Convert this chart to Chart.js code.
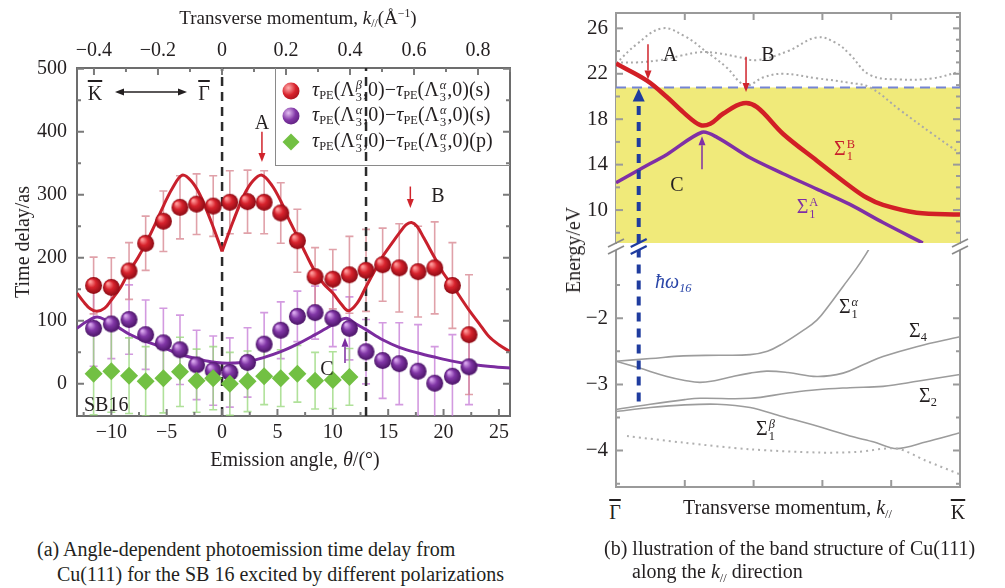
<!DOCTYPE html>
<html>
<head>
<meta charset="utf-8">
<script src="https://cdn.jsdelivr.net/npm/chart.js@4.4.1/dist/chart.umd.min.js"></script>
<style>
  body { margin: 0; background: #fff; }
  #page { position: relative; width: 1005px; height: 588px; overflow: hidden; font-family: "Liberation Serif", "DejaVu Serif", serif; color: #231f20; }
  canvas { position: absolute; }
  .lbl { position: absolute; white-space: nowrap; line-height: 1; font-size: 20px; transform: translate(-50%, -50%); }
  .lft { transform: translate(0, -50%); }
  .rot { transform: translate(-50%, -50%) rotate(-90deg); }
  .sub { font-size: 0.62em; vertical-align: -0.3em; }
  .sup { font-size: 0.62em; vertical-align: 0.55em; }
  .ss { display: inline-block; font-size: 0.62em; line-height: 0.95; vertical-align: -0.4em; text-align: left; margin: 0 1px; }
  .ss > span { display: block; }
  .ov { text-decoration: overline; }
  .ball { position: absolute; width: 17px; height: 17px; border-radius: 50%; transform: translate(-50%, -50%); }
  .dia { position: absolute; width: 12px; height: 12px; background: #72c043; transform: translate(-50%, -50%) rotate(45deg); }
</style>
</head>
<body>
<div id="page">
  <canvas id="chartA" width="540" height="470" style="left:0;top:0"></canvas>
  <canvas id="chartB1" width="465" height="250" style="left:540px;top:0"></canvas>
  <canvas id="chartB2" width="465" height="260" style="left:540px;top:235px"></canvas>
</div>
<script>
// ---------- (a) time delay vs emission angle ----------
const angleTicks = [-10, -5, 0, 5, 10, 15, 20, 25];
const angleMinor = [-12.5, -7.5, -2.5, 2.5, 7.5, 12.5, 17.5, 22.5];
const kTicks = [-0.4, -0.2, 0, 0.2, 0.4, 0.6, 0.8];
const kMinor = [-0.3, -0.1, 0.1, 0.3, 0.5, 0.7, 0.9];
const delayTicks = [0, 100, 200, 300, 400, 500];
const delayMinor = [50, 150, 250, 350, 450];

const angle = [-11.6, -10, -8.4, -6.9, -5.3, -3.8, -2.3, -0.8, 0.7, 2.3, 3.8, 5.3, 6.8, 8.4, 10, 11.5, 13, 14.5, 16, 17.7, 19.2, 20.8, 22.3];
const delayRed = [156, 153, 179, 223, 258, 280, 285, 282, 288, 289, 288, 271, 227, 170, 166, 173, 180, 189, 184, 178, 184, 156, 78];
const errRed = [45, 47, 45, 43, 48, 50, 48, 48, 50, 50, 50, 48, 50, 46, 47, 61, 65, 58, 70, 72, 73, 68, 95];
const delayPurple = [88, 95, 102, 78, 65, 54, 30, 21, 18, 34, 63, 85, 107, 113, 104, 88, 51, 37, 32, 20, 1, 12, 27];
const errPurple = [60, 55, 55, 55, 55, 55, 55, 55, 55, 55, 50, 45, 40, 42, 45, 50, 51, 60, 65, 74, 58, 66, 60];
const angleGreen = [-11.6, -10, -8.4, -6.9, -5.3, -3.8, -2.3, -0.8, 0.7, 2.3, 3.8, 5.3, 6.8, 8.4, 10, 11.5];
const delayGreen = [16, 20, 13, 4, 9, 19, 5, 9, 0, 4, 12, 9, 16, 5, 6, 11];
const errGreen = [65, 65, 60, 55, 55, 55, 50, 50, 50, 48, 45, 45, 45, 45, 45, 45];

const redFitX = [-13.1, -12.5, -11.9, -11.3, -10.6, -10, -9.2, -8.4, -7.6, -6.85, -6, -5.25, -4.5, -3.6, -2.8, -2, -1, 0,
                 1, 2, 2.8, 3.6, 4.5, 5.3, 6, 6.8, 7.6, 8.4, 9.2, 10, 10.7, 11.4, 12.2, 13, 13.8, 14.5, 15.3, 16, 16.6, 17.1,
                 17.6, 18.2, 19.2, 20, 20.8, 21.6, 22.3, 23.2, 24.1, 25, 26];
const redFitY = [144, 130, 119, 115, 120, 133, 152, 178, 200, 224, 255, 284, 310, 331, 322, 300, 258, 210,
                 258, 300, 322, 331, 315, 290, 262, 234, 205, 178, 158, 144, 128, 116, 128, 154, 180, 202, 222, 239, 252, 256,
                 250, 232, 200, 175, 156, 135, 117, 96, 75, 62, 51];
const purpleFitX = [-13.1, -12.3, -11.3, -10.4, -9.4, -8.4, -7, -5.25, -3.8, -2.3, -1, 0, 1, 2.3, 3.8, 5.3, 6.8, 8.4, 9.3, 10.2, 11.2,
                    12, 13, 14.5, 16, 17.7, 19.3, 20.8, 22.5, 24, 26];
const purpleFitY = [88, 98, 106, 100, 90, 79, 68, 57, 47, 40, 35, 33, 33, 35, 42, 51, 63, 78, 87, 96, 104,
                    96, 86, 70, 58, 49, 42, 36, 31, 28, 25];
const dividerAngles = [0, 13];

// ---------- (b) band structure ----------
const kbTicks = [1, 2, 3, 4];
const eUpTicks = [10, 14, 18, 22, 26];
const eUpMinorL = [8, 12, 16, 20, 24];
const eUpMinorR = [8, 9, 11, 12, 13, 15, 16, 17, 19, 20, 21, 23, 24, 25, 27];
const eLowTicks = [-4, -3, -2];
const eLowMinor = [-4.5, -3.5, -2.5, -1.5];

const sigB_k = [0, 0.45, 0.74, 0.98, 1.22, 1.37, 1.56, 1.85, 2.05, 2.43, 2.92, 3.4, 3.64, 3.88, 4.37, 5.0];
const sigB_E = [22.9, 21.4, 19.95, 18.6, 17.5, 17.6, 18.5, 19.4, 19.06, 16.7, 14.35, 12.1, 11.1, 10.45, 9.77, 9.6];
const sigA_k = [0, 0.35, 0.74, 1.25, 1.47, 1.95, 2.43, 2.92, 3.4, 3.88, 4.46];
const sigA_E = [12.4, 13.6, 14.9, 16.85, 16.4, 14.6, 13.2, 11.85, 10.5, 8.9, 7.1];
const gray1_k = [0, 0.3, 0.67, 1.0, 1.3, 1.6, 1.88, 2.15, 2.43, 2.92, 3.4, 3.69, 4.13, 4.6, 5.0];
const gray1_E = [22.9, 24.6, 26.0, 25.3, 24.0, 22.6, 21.0, 21.7, 22.0, 21.6, 21.2, 20.8, 18.8, 16.7, 15.0];
const gray2_k = [0, 0.3, 0.64, 0.95, 1.22, 1.5, 1.76, 2.05, 2.5, 2.92, 3.2, 3.4, 3.69, 4.13, 4.6, 5.0];
const gray2_E = [23.0, 23.0, 23.2, 23.6, 23.9, 23.8, 23.5, 23.2, 24.0, 25.2, 24.7, 23.7, 21.9, 21.5, 21.6, 22.2];
const cutoffE = 20.8;
const pumpK = 0.33, pumpFrom = -3.26, pumpTo = 20.7;

const s1a_k = [0, 0.5, 0.98, 1.5, 1.95, 2.2, 2.43, 2.7, 2.92, 3.1, 3.3, 3.5, 3.64, 3.72];
const s1a_E = [-2.65, -2.61, -2.57, -2.56, -2.55, -2.5, -2.38, -2.2, -2.03, -1.8, -1.52, -1.24, -1.02, -0.88];
const s4_k = [0, 0.33, 0.74, 1.0, 1.22, 1.45, 1.7, 1.95, 2.19, 2.5, 2.92, 3.3, 3.6, 3.88, 4.37, 5.0];
const s4_E = [-2.65, -2.75, -2.88, -2.94, -2.97, -2.94, -2.88, -2.83, -2.8, -2.82, -2.88, -2.83, -2.7, -2.58, -2.43, -2.28];
const s2_k = [0, 0.5, 1.0, 1.22, 1.95, 2.5, 2.92, 3.4, 3.88, 4.4, 5.0];
const s2_E = [-3.38, -3.3, -3.23, -3.21, -3.21, -3.13, -3.08, -3.05, -3.03, -2.95, -2.85];
const s1b_k = [0, 0.5, 1.0, 1.47, 1.95, 2.4, 2.92, 3.4, 3.75, 4.08, 4.5, 5.0];
const s1b_E = [-3.41, -3.35, -3.31, -3.3, -3.35, -3.48, -3.63, -3.78, -3.87, -3.97, -3.87, -3.73];
const dot_k = [0.16, 0.98, 1.95, 2.97, 3.5, 4.08, 4.5, 5.0];
const dot_E = [-3.78, -3.88, -3.98, -4.03, -4.02, -3.97, -4.15, -4.36];

// ---------- helpers ----------
Chart.defaults.font.family = '"Liberation Serif", "DejaVu Serif", serif';
Chart.defaults.color = '#231f20';

const fmt = v => (v < 0 ? '\u2212' + Math.abs(v) : String(v));
const pts = (xs, ys) => xs.map((x, i) => ({ x: x, y: ys[i] }));
// fixed axis sizes; no extra room for the end labels
const fixW = w => s => { s.width = w; s.paddingTop = 0; s.paddingBottom = 0; };
const fixH = h => s => { s.height = h; s.paddingLeft = 0; s.paddingRight = 0; };
const setTicks = vals => s => { s.ticks = vals.map(v => ({ value: v })); };

function sphere(light, mid, dark, r) {
    const c = document.createElement('canvas');
    c.width = c.height = 2 * r + 2;
    const g = c.getContext('2d');
    const grad = g.createRadialGradient(r * 0.7, r * 0.65, r * 0.1, r + 1, r + 1, r);
    grad.addColorStop(0, light);
    grad.addColorStop(0.45, mid);
    grad.addColorStop(1, dark);
    g.fillStyle = grad;
    g.beginPath();
    g.arc(r + 1, r + 1, r, 0, Math.PI * 2);
    g.fill();
    return c;
}

function axis(opts) {
    const base = {
        type: 'linear',
        grid: { display: false, drawTicks: false },
        border: { display: true, color: '#6d6d6d', width: 2 },
        ticks: { display: false }
    };
    return Object.assign(base, opts);
}

// inward tick marks
function inTicks(color, list) {
    return {
        id: 'inTicks',
        afterDatasetsDraw(chart) {
            const { ctx, chartArea: a } = chart;
            ctx.save();
            ctx.strokeStyle = color;
            ctx.lineWidth = 2;
            list.forEach(d => {
                const sc = chart.scales[d.scale];
                [[d.major, 7], [d.minor || [], 4]].forEach(([vals, len]) => {
                    vals.forEach(v => {
                        const p = sc.getPixelForValue(v);
                        ctx.beginPath();
                        d.sides.forEach(side => {
                            if (side === 'top') { ctx.moveTo(p, a.top); ctx.lineTo(p, a.top + len); }
                            if (side === 'bottom') { ctx.moveTo(p, a.bottom); ctx.lineTo(p, a.bottom - len); }
                            if (side === 'left') { ctx.moveTo(a.left, p); ctx.lineTo(a.left + len, p); }
                            if (side === 'right') { ctx.moveTo(a.right, p); ctx.lineTo(a.right - len, p); }
                        });
                        ctx.stroke();
                    });
                });
            });
            ctx.restore();
        }
    };
}

// vertical arrows in data units
function arrows(list) {
    return {
        id: 'arrows',
        afterDatasetsDraw(chart) {
            const { ctx, scales } = chart;
            list.forEach(ar => {
                const px = scales.x.getPixelForValue(ar.x);
                const p0 = scales.y.getPixelForValue(ar.from);
                const p1 = scales.y.getPixelForValue(ar.to);
                const dir = Math.sign(p1 - p0);
                ctx.save();
                ctx.strokeStyle = ar.color;
                ctx.fillStyle = ar.color;
                ctx.lineWidth = ar.lw;
                if (!ar.headOnly) {
                    ctx.beginPath();
                    ctx.moveTo(px, p0);
                    ctx.lineTo(px, p1 - dir * ar.head);
                    ctx.stroke();
                }
                ctx.beginPath();
                ctx.moveTo(px, p1);
                ctx.lineTo(px - ar.hw, p1 - dir * ar.head);
                ctx.lineTo(px + ar.hw, p1 - dir * ar.head);
                ctx.closePath();
                ctx.fill();
                ctx.restore();
            });
        }
    };
}

const errorBars = {
    id: 'errorBars',
    beforeDatasetsDraw(chart) {
        const { ctx, chartArea: a, scales: { x, y } } = chart;
        ctx.save();
        ctx.beginPath();
        ctx.rect(a.left, a.top, a.width, a.height);
        ctx.clip();
        chart.data.datasets.forEach(ds => {
            if (!ds.errors) return;
            ctx.strokeStyle = ds.errorColor;
            ctx.lineWidth = 1.6;
            ds.data.forEach((p, i) => {
                const px = x.getPixelForValue(p.x);
                const y1 = y.getPixelForValue(p.y + ds.errors[i]);
                const y2 = y.getPixelForValue(p.y - ds.errors[i]);
                ctx.beginPath();
                ctx.moveTo(px, y1); ctx.lineTo(px, y2);
                ctx.moveTo(px - 4, y1); ctx.lineTo(px + 4, y1);
                ctx.moveTo(px - 4, y2); ctx.lineTo(px + 4, y2);
                ctx.stroke();
            });
        });
        ctx.restore();
    }
};

// K <-> Gamma double arrow (annotation, pixels)
const kgArrow = {
    id: 'kgArrow',
    afterDraw(chart) {
        const ctx = chart.ctx;
        const y = 92, x0 = 115, x1 = 187;
        ctx.save();
        ctx.strokeStyle = ctx.fillStyle = '#231f20';
        ctx.lineWidth = 1.3;
        ctx.beginPath(); ctx.moveTo(x0 + 6, y); ctx.lineTo(x1 - 6, y); ctx.stroke();
        [[x0, 1], [x1, -1]].forEach(([x, d]) => {
            ctx.beginPath();
            ctx.moveTo(x, y);
            ctx.lineTo(x + d * 9, y - 3.5);
            ctx.lineTo(x + d * 9, y + 3.5);
            ctx.closePath();
            ctx.fill();
        });
        ctx.restore();
    }
};

const tickFont = { size: 20 };
const redBall = sphere('#ff9a9a', '#d8232d', '#8c0a14', 8.5);
const purpleBall = sphere('#d9a6ee', '#8136a6', '#4a1466', 8.5);

// ---------- chart (a) ----------
const iZero = redFitX.indexOf(0);
new Chart(document.getElementById('chartA'), {
    type: 'scatter',
    data: {
        datasets: [
            ...dividerAngles.map(a => ({
                data: [{ x: a, y: -51 }, { x: a, y: 501 }],
                showLine: true, pointRadius: 0, borderColor: '#2b2b2b', borderWidth: 2.5, borderDash: [9, 6], order: 9
            })),
            { data: pts(redFitX.slice(0, iZero + 1), redFitY.slice(0, iZero + 1)), showLine: true, pointRadius: 0,
              borderColor: '#c8202c', borderWidth: 3, tension: 0.35, order: 5 },
            { data: pts(redFitX.slice(iZero), redFitY.slice(iZero)), showLine: true, pointRadius: 0,
              borderColor: '#c8202c', borderWidth: 3, tension: 0.35, order: 5 },
            { data: pts(purpleFitX, purpleFitY), showLine: true, pointRadius: 0,
              borderColor: '#7b2c9f', borderWidth: 3, tension: 0.35, order: 5 },
            { data: pts(angle, delayPurple), errors: errPurple, errorColor: 'rgba(196,120,214,0.75)',
              pointStyle: purpleBall, pointRadius: 8.5, order: 2 },
            { data: pts(angleGreen, delayGreen), errors: errGreen, errorColor: 'rgba(150,215,120,0.75)',
              pointStyle: 'rectRot', pointRadius: 9, backgroundColor: '#72c043', borderWidth: 0, order: 1 },
            { data: pts(angle, delayRed), errors: errRed, errorColor: 'rgba(214,130,140,0.75)',
              pointStyle: redBall, pointRadius: 8.5, order: 0 }
        ]
    },
    options: {
        responsive: false, animation: false, events: [],
        plugins: { legend: { display: false }, tooltip: { enabled: false } },
        scales: {
            x: axis({ position: 'bottom', min: -13.1, max: 26, afterFit: fixH(54), afterBuildTicks: setTicks(angleTicks),
                      ticks: { display: true, font: tickFont, padding: 5, autoSkip: false, maxRotation: 0, callback: fmt } }),
            x2: axis({ position: 'top', min: -0.453, max: 0.9, afterFit: fixH(68), afterBuildTicks: setTicks(kTicks),
                       ticks: { display: true, font: tickFont, padding: 5, autoSkip: false, maxRotation: 0, callback: fmt } }),
            y: axis({ position: 'left', min: -51, max: 501, afterFit: fixW(77), afterBuildTicks: setTicks(delayTicks),
                      ticks: { display: true, font: tickFont, padding: 10, autoSkip: false, callback: fmt } }),
            y2: axis({ position: 'right', min: -51, max: 501, afterFit: fixW(30) })
        }
    },
    plugins: [
        errorBars,
        inTicks('#7a7a7a', [
            { scale: 'x', sides: ['bottom'], major: angleTicks, minor: angleMinor },
            { scale: 'x2', sides: ['top'], major: kTicks, minor: kMinor },
            { scale: 'y', sides: ['left', 'right'], major: delayTicks, minor: delayMinor }
        ]),
        arrows([
            { x: 3.6, from: 400, to: 352, color: '#d0242c', lw: 1.5, head: 9, hw: 3.5 },
            { x: 17.0, from: 313, to: 279, color: '#d0242c', lw: 1.5, head: 9, hw: 3.5 },
            { x: 11.1, from: 33, to: 73, color: '#7b2c9f', lw: 1.5, head: 9, hw: 3.5 }
        ]),
        kgArrow
    ]
});

// ---------- chart (b) upper ----------
const yAxisB = (min, max, ticks, w) => axis({
    position: 'left', min: min, max: max, afterFit: fixW(w), afterBuildTicks: setTicks(ticks),
    border: { display: true, color: '#9a9a9a', width: 2 },
    ticks: { display: true, font: { size: 21 }, padding: 8, autoSkip: false, callback: fmt }
});
const grayBorder = { display: true, color: '#9a9a9a', width: 2 };

new Chart(document.getElementById('chartB1'), {
    type: 'scatter',
    data: {
        datasets: [
            { data: [{ x: 0, y: cutoffE }, { x: 5, y: cutoffE }], showLine: true, pointRadius: 0, fill: 'start',
              backgroundColor: '#f0ea7a', borderColor: '#7484d4', borderWidth: 2, borderDash: [10, 6], order: 10 },
            { data: pts(gray1_k, gray1_E), showLine: true, pointRadius: 0, borderColor: '#a9a9a9', borderWidth: 2,
              borderDash: [2, 3], tension: 0.4, order: 8 },
            { data: pts(gray2_k, gray2_E), showLine: true, pointRadius: 0, borderColor: '#a9a9a9', borderWidth: 2,
              borderDash: [2, 3], tension: 0.4, order: 8 },
            { data: pts(sigA_k, sigA_E), showLine: true, pointRadius: 0, borderColor: '#7f2fa6', borderWidth: 3.5,
              tension: 0.3, order: 3 },
            { data: pts(sigB_k, sigB_E), showLine: true, pointRadius: 0, borderColor: '#d21f26', borderWidth: 4.5,
              tension: 0.35, order: 2 },
            { data: [{ x: pumpK, y: 7.1 }, { x: pumpK, y: pumpTo - 1 }], showLine: true, pointRadius: 0,
              borderColor: '#1f3c9f', borderWidth: 4, borderDash: [9, 7], order: 1 }
        ]
    },
    options: {
        responsive: false, animation: false, events: [],
        layout: { padding: { bottom: 7 } },
        plugins: { legend: { display: false }, tooltip: { enabled: false } },
        scales: {
            x: axis({ position: 'top', min: 0, max: 5, afterFit: fixH(13), border: grayBorder }),
            y: yAxisB(7.1, 27.35, eUpTicks, 76),
            y2: axis({ position: 'right', min: 7.1, max: 27.35, afterFit: fixW(45), border: grayBorder })
        }
    },
    plugins: [
        inTicks('#9a9a9a', [
            { scale: 'x', sides: ['top'], major: kbTicks },
            { scale: 'y', sides: ['left'], major: eUpTicks, minor: eUpMinorL },
            { scale: 'y', sides: ['right'], major: eUpTicks, minor: eUpMinorR }
        ]),
        arrows([
            { x: 0.465, from: 24.6, to: 21.5, color: '#d0242c', lw: 1.5, head: 9, hw: 3.5 },
            { x: 1.89, from: 23.5, to: 20.4, color: '#d0242c', lw: 1.5, head: 9, hw: 3.5 },
            { x: 1.25, from: 13.6, to: 16.5, color: '#7f2fa6', lw: 1.5, head: 9, hw: 3.5 },
            { x: pumpK, from: pumpTo - 1, to: pumpTo, color: '#1f3c9f', lw: 4, head: 13, hw: 6, headOnly: true }
        ])
    ]
});

// ---------- chart (b) lower ----------
const breakMarks = {
    id: 'breakMarks',
    afterDraw(chart) {
        const ctx = chart.ctx;
        const xs = [[chart.chartArea.left, '#8a8a8a', 1.8], [chart.chartArea.right, '#8a8a8a', 1.8],
                    [chart.scales.x.getPixelForValue(pumpK), '#1f3c9f', 2.2]];
        ctx.save();
        xs.forEach(([x, col, lw]) => {
            ctx.fillStyle = '#fff';
            ctx.fillRect(x - 4, 9, 8, 6);
            ctx.strokeStyle = col;
            ctx.lineWidth = lw;
            [8, 15].forEach(y => {
                ctx.beginPath();
                ctx.moveTo(x - 8, y + 4);
                ctx.lineTo(x + 8, y - 4);
                ctx.stroke();
            });
        });
        ctx.restore();
    }
};

new Chart(document.getElementById('chartB2'), {
    type: 'scatter',
    data: {
        datasets: [
            { data: pts(dot_k, dot_E), showLine: true, pointRadius: 0, borderColor: '#b0b0b0', borderWidth: 2,
              borderDash: [2, 4], tension: 0.3 },
            { data: pts(s1a_k, s1a_E), showLine: true, pointRadius: 0, borderColor: '#9c9c9c', borderWidth: 1.6, tension: 0.4 },
            { data: pts(s4_k, s4_E), showLine: true, pointRadius: 0, borderColor: '#9c9c9c', borderWidth: 1.6, tension: 0.4 },
            { data: pts(s2_k, s2_E), showLine: true, pointRadius: 0, borderColor: '#9c9c9c', borderWidth: 1.6, tension: 0.4 },
            { data: pts(s1b_k, s1b_E), showLine: true, pointRadius: 0, borderColor: '#9c9c9c', borderWidth: 1.6, tension: 0.3 },
            { data: [{ x: pumpK, y: pumpFrom }, { x: pumpK, y: -0.97 }], showLine: true, pointRadius: 0,
              borderColor: '#1f3c9f', borderWidth: 4, borderDash: [9, 7], order: -1 }
        ]
    },
    options: {
        responsive: false, animation: false, events: [],
        layout: { padding: { top: 15 } },
        plugins: { legend: { display: false }, tooltip: { enabled: false } },
        scales: {
            x: axis({ position: 'bottom', min: 0, max: 5, afterFit: fixH(8), border: grayBorder }),
            y: yAxisB(-4.55, -0.97, eLowTicks, 76),
            y2: axis({ position: 'right', min: -4.55, max: -0.97, afterFit: fixW(45), border: grayBorder })
        }
    },
    plugins: [
        inTicks('#9a9a9a', [
            { scale: 'x', sides: ['bottom'], major: kbTicks },
            { scale: 'y', sides: ['left', 'right'], major: eLowTicks, minor: eLowMinor }
        ]),
        breakMarks
    ]
});

// ---------- text overlays ----------
const page = document.getElementById('page');
function label(html, x, y, cls, style) {
    const d = document.createElement('div');
    d.className = 'lbl ' + (cls || '');
    d.innerHTML = html;
    d.style.left = x + 'px';
    d.style.top = y + 'px';
    if (style) d.style.cssText += style;
    page.appendChild(d);
    return d;
}
const ss = (sup, sub) => `<span class="ss"><span>${sup}</span><span>${sub}</span></span>`;
const tau = (a, b, pol) =>
    `<i>τ</i><span class="sub">PE</span>(Λ${ss('<i>' + a + '</i>', '3')},0)\u2212<i>τ</i><span class="sub">PE</span>(Λ${ss('<i>' + b + '</i>', '3')},0)(${pol})`;

// panel (a)
label('Transverse momentum, <i>k</i><span class="sub">//</span>(Å<span class="sup">\u22121</span>)', 298, 19, '', 'font-size:19px;');
label('Time delay/as', 22, 242, 'rot');
label('Emission angle, <i>θ</i>/(°)', 295, 459);
label('<span class="ov">K</span>', 95, 93);
label('<span class="ov">Γ</span>', 204, 93);
label('A', 262, 122);
label('B', 438, 195);
label('C', 327, 368);
label('SB16', 84, 404, 'lft');

const leg = document.createElement('div');
leg.style.cssText = 'position:absolute;left:275px;top:68px;width:234px;height:97px;border-left:1.5px solid #8a8a8a;border-bottom:1.5px solid #8a8a8a;';
page.appendChild(leg);
const legendRows = [
    ['ball', 'radial-gradient(circle at 35% 32%, #ffb0b0 0%, #d8232d 45%, #8c0a14 100%)', tau('β', 'α', 's'), 91],
    ['ball', 'radial-gradient(circle at 35% 32%, #e4bff2 0%, #8136a6 45%, #4a1466 100%)', tau('α', 'α', 's'), 116],
    ['dia', '#72c043', tau('α', 'α', 'p'), 142]
];
legendRows.forEach(([cls, bg, html, y]) => {
    const m = document.createElement('div');
    m.className = cls;
    m.style.cssText += `left:291px;top:${y}px;background:${bg};`;
    page.appendChild(m);
    label(html, 312, y, 'lft');
});

// panel (b)
label('A', 670, 54);
label('B', 768, 54);
label('C', 677, 184);
label('Σ' + ss('B', '1'), 845, 150, '', 'color:#c8202c;');
label('Σ' + ss('A', '1'), 808, 208, '', 'color:#7f2fa6;');
label('<i>ħω</i><span class="sub"><i>16</i></span>', 655, 283, 'lft', 'color:#2a46a8;');
label('Σ' + ss('<i>α</i>', '1'), 849, 308);
label('Σ<span class="sub">4</span>', 918, 332);
label('Σ<span class="sub">2</span>', 928, 397);
label('Σ' + ss('<i>β</i>', '1'), 766, 430);
label('Energy/eV', 573, 250, 'rot');
label('<span class="ov">Γ</span>', 615, 512);
label('Transverse momentum, <i>k</i><span class="sub">//</span>', 683, 509, 'lft');
label('<span class="ov">K</span>', 958, 512);

// captions
label('(a) Angle-dependent photoemission time delay from', 37, 549, 'lft');
label('Cu(111) for the SB 16 excited by different polarizations', 57, 574, 'lft');
label('(b) llustration of the band structure of Cu(111)', 604, 548, 'lft');
label('along the <i>k</i><span class="sub">//</span> direction', 632, 573, 'lft');
</script>
</body>
</html>
